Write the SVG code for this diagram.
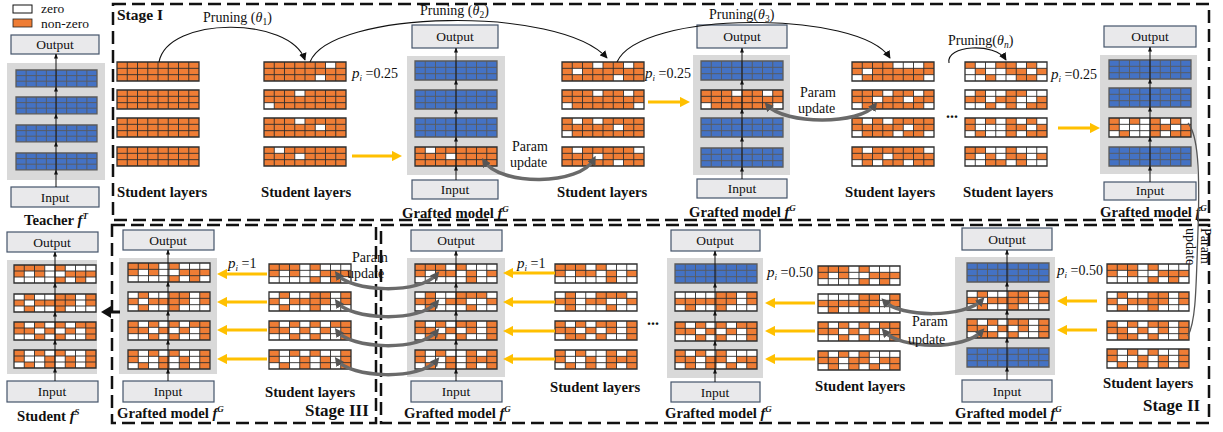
<svg xmlns="http://www.w3.org/2000/svg" xmlns:xlink="http://www.w3.org/1999/xlink" width="1223" height="432" viewBox="0 0 1223 432">
<defs>
<style>
.t{font-family:"Liberation Serif",serif;fill:#111}
.b{font-weight:bold;font-size:14.7px}
.s13{font-size:13.5px}
.s14{font-size:14px}
.io{fill:#e9e9eb;stroke:#44546a;stroke-width:1.2}
.pn{fill:#d9d9d9}
.o{fill:#ef7d35}
.bl{fill:#4472c4}
.w{fill:#fff}
.g{fill:none;stroke:#2e2e2e;stroke-width:0.9;vector-effect:non-scaling-stroke}
.gb{fill:none;stroke:#5a5a5a;stroke-width:0.9;vector-effect:non-scaling-stroke}
.ya{stroke:#ffc000;stroke-width:3.2;fill:none;marker-end:url(#ya)}
.pu{stroke:#6a6a6a;stroke-width:3.5;fill:none;marker-start:url(#gh);marker-end:url(#gh)}
.pr{stroke:#111;stroke-width:1.1;fill:none;marker-end:url(#ka)}
.va{stroke:#111;stroke-width:1;fill:none;marker-mid:url(#sa);marker-end:url(#sa)}
.dash{fill:none;stroke:#111;stroke-width:2.5;stroke-dasharray:13 6}
</style>
<marker id="ya" viewBox="0 0 10 10" refX="6" refY="5" markerWidth="3.3" markerHeight="3.3" orient="auto"><path d="M0 0L10 5L0 10z" fill="#ffc000"/></marker>
<marker id="gh" viewBox="0 0 10 10" refX="6" refY="5" markerWidth="2.6" markerHeight="2.6" orient="auto-start-reverse"><path d="M0 0L10 5L0 10z" fill="#555"/></marker>
<marker id="ka" viewBox="0 0 10 10" refX="9" refY="5" markerWidth="7" markerHeight="7" orient="auto"><path d="M0 0L10 5L0 10z" fill="#111"/></marker>
<marker id="sa" viewBox="0 0 10 10" refX="9" refY="5" markerWidth="5" markerHeight="5" orient="auto"><path d="M0 1L10 5L0 9z" fill="#111"/></marker>
<g id="gO"><path class="g" d="M1 0V3M2 0V3M3 0V3M4 0V3M5 0V3M6 0V3M7 0V3M0 1H8M0 2H8"/><rect class="g" width="8" height="3" style="stroke-width:1.3"/></g>
<g id="gB"><path class="gb" d="M1 0V3M2 0V3M3 0V3M4 0V3M5 0V3M6 0V3M7 0V3M0 1H8M0 2H8"/><rect class="gb" width="8" height="3" style="stroke-width:1.3"/></g>
<g id="LO"><rect class="o" width="8" height="3"/><use href="#gO"/></g>
<g id="LB"><rect class="bl" width="8" height="3"/><use href="#gB"/></g>
<g id="La1"><rect class="o" width="8" height="3"/><path class="w" d="M6 0h1v1h-1zM5 2h1v1h-1z"/><use href="#gO"/></g>
<g id="La2"><rect class="o" width="8" height="3"/><path class="w" d="M3 0h1v1h-1zM0 2h1v1h-1z"/><use href="#gO"/></g>
<g id="La3"><rect class="o" width="8" height="3"/><path class="w" d="M3 0h1v1h-1zM5 1h1v1h-1z"/><use href="#gO"/></g>
<g id="La4"><rect class="o" width="8" height="3"/><path class="w" d="M1 0h1v1h-1zM3 1h1v1h-1z"/><use href="#gO"/></g>
<g id="Lb1"><rect class="o" width="8" height="3"/><path class="w" d="M3 0h1v1h-1zM6 0h1v1h-1zM1 1h1v1h-1zM5 2h1v1h-1z"/><use href="#gO"/></g>
<g id="Lb2"><rect class="o" width="8" height="3"/><path class="w" d="M3 0h1v1h-1zM6 0h1v1h-1zM0 2h1v1h-1zM7 2h1v1h-1z"/><use href="#gO"/></g>
<g id="Lb3"><rect class="o" width="8" height="3"/><path class="w" d="M1 0h1v1h-1zM3 0h1v1h-1zM5 1h1v1h-1zM0 2h1v1h-1z"/><use href="#gO"/></g>
<g id="Lb4"><rect class="o" width="8" height="3"/><path class="w" d="M1 0h1v1h-1zM7 0h1v1h-1zM3 1h1v1h-1zM5 2h1v1h-1z"/><use href="#gO"/></g>
<g id="Lc1"><rect class="o" width="8" height="3"/><path class="w" d="M4 0h3v1h-3zM1 1h1v1h-1zM0 2h1v1h-1zM7 2h1v1h-1z"/><use href="#gO"/></g>
<g id="Lc2"><rect class="o" width="8" height="3"/><path class="w" d="M3 0h1v1h-1zM6 0h1v1h-1zM2 1h1v1h-1zM5 1h1v1h-1zM0 2h1v1h-1zM7 2h1v1h-1z"/><use href="#gO"/></g>
<g id="Lc3"><rect class="o" width="8" height="3"/><path class="w" d="M1 0h1v1h-1zM3 0h1v1h-1zM5 1h1v1h-1zM0 2h1v1h-1zM4 2h1v1h-1zM7 2h1v1h-1z"/><use href="#gO"/></g>
<g id="Lc4"><rect class="o" width="8" height="3"/><path class="w" d="M1 0h1v1h-1zM7 0h1v1h-1zM3 1h1v1h-1zM0 2h1v1h-1zM2 2h1v1h-1zM5 2h1v1h-1z"/><use href="#gO"/></g>
<g id="Ld1"><rect class="o" width="8" height="3"/><path class="w" d="M1 0h2v1h-2zM5 0h1v1h-1zM7 0h1v1h-1zM0 1h1v1h-1zM2 1h2v1h-2zM6 1h1v1h-1zM0 2h2v1h-2zM3 2h2v1h-2zM7 2h1v1h-1z"/><use href="#gO"/></g>
<g id="Ld2"><rect class="o" width="8" height="3"/><path class="w" d="M0 0h1v1h-1zM2 0h2v1h-2zM6 0h2v1h-2zM2 1h1v1h-1zM5 1h2v1h-2zM0 2h2v1h-2zM3 2h1v1h-1zM5 2h1v1h-1z"/><use href="#gO"/></g>
<g id="Ld3"><rect class="o" width="8" height="3"/><path class="w" d="M1 0h1v1h-1zM3 0h1v1h-1zM5 0h1v1h-1zM7 0h1v1h-1zM1 1h3v1h-3zM6 1h1v1h-1zM0 2h1v1h-1zM2 2h2v1h-2zM5 2h1v1h-1z"/><use href="#gO"/></g>
<g id="Ld4"><rect class="o" width="8" height="3"/><path class="w" d="M2 0h2v1h-2zM5 0h3v1h-3zM1 1h1v1h-1zM3 1h1v1h-1zM6 1h1v1h-1zM0 2h2v1h-2zM4 2h1v1h-1zM6 2h2v1h-2z"/><use href="#gO"/></g>
<g id="Le1"><rect class="o" width="8" height="3"/><path class="w" d="M3 0h1v1h-1zM5 0h3v1h-3zM1 1h1v1h-1zM3 1h2v1h-2zM0 2h4v1h-4zM5 2h1v1h-1zM7 2h1v1h-1z"/><use href="#gO"/></g>
<g id="Le2"><rect class="o" width="8" height="3"/><path class="w" d="M0 0h1v1h-1zM2 0h2v1h-2zM6 0h1v1h-1zM1 1h1v1h-1zM6 1h1v1h-1zM0 2h1v1h-1zM2 2h2v1h-2zM5 2h3v1h-3z"/><use href="#gO"/></g>
<g id="Le3"><rect class="o" width="8" height="3"/><path class="w" d="M1 0h1v1h-1zM3 0h1v1h-1zM5 0h1v1h-1zM2 1h1v1h-1zM4 1h1v1h-1zM6 1h1v1h-1zM0 2h2v1h-2zM3 2h1v1h-1zM5 2h2v1h-2z"/><use href="#gO"/></g>
<g id="Le4"><rect class="o" width="8" height="3"/><path class="w" d="M1 0h1v1h-1zM3 0h1v1h-1zM5 0h2v1h-2zM1 1h2v1h-2zM4 1h1v1h-1zM6 1h1v1h-1zM0 2h1v1h-1zM2 2h1v1h-1zM4 2h1v1h-1zM6 2h1v1h-1z"/><use href="#gO"/></g>
<g id="Lf1"><rect class="o" width="8" height="3"/><path class="w" d="M3 0h1v1h-1zM5 0h3v1h-3zM1 1h1v1h-1zM4 1h1v1h-1zM6 1h1v1h-1zM0 2h5v1h-5zM6 2h2v1h-2z"/><use href="#gO"/></g>
<g id="Lf2"><rect class="o" width="8" height="3"/><path class="w" d="M0 0h1v1h-1zM2 0h2v1h-2zM7 0h1v1h-1zM2 1h1v1h-1zM5 1h2v1h-2zM0 2h1v1h-1zM2 2h3v1h-3zM6 2h2v1h-2z"/><use href="#gO"/></g>
<g id="Lf3"><rect class="o" width="8" height="3"/><path class="w" d="M1 0h1v1h-1zM3 0h1v1h-1zM6 0h1v1h-1zM2 1h1v1h-1zM4 1h1v1h-1zM6 1h1v1h-1zM0 2h1v1h-1zM3 2h1v1h-1zM5 2h2v1h-2z"/><use href="#gO"/></g>
<g id="Lf4"><rect class="o" width="8" height="3"/><path class="w" d="M1 0h1v1h-1zM3 0h2v1h-2zM6 0h1v1h-1zM1 1h2v1h-2zM4 1h1v1h-1zM0 2h1v1h-1zM2 2h1v1h-1zM4 2h1v1h-1zM6 2h1v1h-1z"/><use href="#gO"/></g>
<g id="Lg2"><rect class="o" width="8" height="3"/><path class="w" d="M0 0h4v1h-4zM6 0h1v1h-1zM6 1h1v1h-1zM0 2h1v1h-1zM2 2h2v1h-2zM5 2h3v1h-3z"/><use href="#gO"/></g>
<g id="Lg4"><rect class="o" width="8" height="3"/><path class="w" d="M1 0h1v1h-1zM3 0h1v1h-1zM5 0h3v1h-3zM2 1h1v1h-1zM5 1h1v1h-1zM0 2h1v1h-1zM2 2h1v1h-1zM4 2h1v1h-1zM6 2h1v1h-1z"/><use href="#gO"/></g>
</defs>

<rect width="1223" height="432" fill="#fff"/>

<!-- legend -->
<g id="legend" class="t">
<rect x="13" y="5" width="19" height="8" fill="#fff" stroke="#111" stroke-width="1"/>
<text x="41" y="13" style="font-size:13.5px">zero</text>
<rect x="13" y="19" width="19" height="8" class="o" stroke="#222" stroke-width="0.8"/>
<text x="41" y="28" style="font-size:13.5px">non-zero</text>
</g>

<!-- stage frames -->
<g id="frames">
<rect class="dash" x="113" y="4" width="1096" height="216"/>
<rect class="dash" x="112" y="225" width="264" height="198"/>
<rect class="dash" x="381" y="225" width="828" height="198"/>
<text class="t" x="117" y="20" style="font-weight:bold;font-size:15.5px">Stage I</text>
<text class="t" x="305" y="416" style="font-weight:bold;font-size:17px">Stage III</text>
<text class="t" x="1143" y="411" style="font-weight:bold;font-size:17px">Stage II</text>
</g>

<!-- Teacher -->
<g id="teacher">
<rect class="io" x="11" y="35" width="88" height="19"/>
<text class="t s13" x="55" y="49" text-anchor="middle">Output</text>
<rect class="pn" x="7" y="63" width="98" height="117"/>
<use href="#LB" transform="translate(16,70) scale(10.125,5.6)"/>
<use href="#LB" transform="translate(16,97) scale(10.125,5.6)"/>
<use href="#LB" transform="translate(16,125) scale(10.125,5.6)"/>
<use href="#LB" transform="translate(16,153) scale(10.125,5.6)"/>
<rect class="io" x="11" y="187" width="88" height="20"/>
<text class="t s13" x="55" y="202" text-anchor="middle">Input</text>
<path class="va" d="M56 187L56 170L56 142L56 114L56 87L56 54"/>
<text class="t b" x="56" y="225" text-anchor="middle">Teacher <tspan font-style="italic">f</tspan><tspan font-size="9" dy="-6" font-style="italic">T</tspan></text>
</g>

<!-- Stage I student columns -->
<g id="s1-student1">
<use href="#LO" transform="translate(117,62) scale(10.25,6.33)"/>
<use href="#LO" transform="translate(117,90) scale(10.25,6.33)"/>
<use href="#LO" transform="translate(117,118) scale(10.25,6.33)"/>
<use href="#LO" transform="translate(117,147) scale(10.25,6.33)"/>
<text class="t b" x="117" y="197">Student layers</text>
</g>
<g id="s1-student2">
<use href="#La1" transform="translate(264,62) scale(10.25,6.33)"/>
<use href="#La2" transform="translate(264,90) scale(10.25,6.33)"/>
<use href="#La3" transform="translate(264,118) scale(10.25,6.33)"/>
<use href="#La4" transform="translate(264,147) scale(10.25,6.33)"/>
<text class="t" x="352" y="78" style="font-size:14px"><tspan font-style="italic" font-size="15">p</tspan><tspan font-size="9" dy="3" font-style="italic">i</tspan><tspan dy="-3"> =0.25</tspan></text>
<text class="t b" x="261" y="197">Student layers</text>
</g>
<g id="s1-grafted1">
<rect class="io" x="412" y="25" width="86" height="23"/>
<text class="t s13" x="455" y="41" text-anchor="middle">Output</text>
<rect class="pn" x="407" y="56" width="98" height="119"/>
<use href="#LB" transform="translate(415,61) scale(10.25,6.33)"/>
<use href="#LB" transform="translate(415,90) scale(10.25,6.33)"/>
<use href="#LB" transform="translate(415,118) scale(10.25,6.33)"/>
<use href="#La4" transform="translate(415,147) scale(10.25,6.33)"/>
<rect class="io" x="412" y="180" width="86" height="19"/>
<text class="t s13" x="455" y="194" text-anchor="middle">Input</text>
<path class="va" d="M456 180L456 166L456 137L456 109L456 80L456 48"/>
<text class="t b" x="402" y="218">Grafted model <tspan font-style="italic">f</tspan><tspan font-size="9" dy="-6" font-style="italic">G</tspan></text>
</g>
<g id="s1-student3">
<use href="#Lb1" transform="translate(562,62) scale(10.25,6.33)"/>
<use href="#Lb2" transform="translate(562,90) scale(10.25,6.33)"/>
<use href="#Lb3" transform="translate(562,118) scale(10.25,6.33)"/>
<use href="#Lb4" transform="translate(562,147) scale(10.25,6.33)"/>
<text class="t" x="645" y="78" style="font-size:14px"><tspan font-style="italic" font-size="15">p</tspan><tspan font-size="9" dy="3" font-style="italic">i</tspan><tspan dy="-3"> =0.25</tspan></text>
<text class="t b" x="557" y="197">Student layers</text>
</g>
<g id="s1-grafted2">
<rect class="io" x="697" y="25" width="90" height="23"/>
<text class="t s13" x="742" y="41" text-anchor="middle">Output</text>
<rect class="pn" x="693" y="55" width="97" height="120"/>
<use href="#LB" transform="translate(701,61) scale(10.25,6.33)"/>
<use href="#Lb2" transform="translate(701,90) scale(10.25,6.33)"/>
<use href="#LB" transform="translate(701,118) scale(10.25,6.33)"/>
<use href="#LB" transform="translate(701,148) scale(10.25,6.33)"/>
<rect class="io" x="697" y="179" width="90" height="19"/>
<text class="t s13" x="742" y="193" text-anchor="middle">Input</text>
<path class="va" d="M742 179L742 167L742 137L742 109L742 80L742 48"/>
<text class="t b" x="689" y="217">Grafted model <tspan font-style="italic">f</tspan><tspan font-size="9" dy="-6" font-style="italic">G</tspan></text>
</g>
<g id="s1-student4">
<use href="#Lc1" transform="translate(852,62) scale(10.25,6.33)"/>
<use href="#Lc2" transform="translate(852,90) scale(10.25,6.33)"/>
<use href="#Lc3" transform="translate(852,118) scale(10.25,6.33)"/>
<use href="#Lc4" transform="translate(852,147) scale(10.25,6.33)"/>
<text class="t b" x="845" y="197">Student layers</text>
<text class="t" x="946" y="118" style="font-size:16px;font-weight:bold">...</text>
</g>
<g id="s1-student5">
<use href="#Ld1" transform="translate(965,62) scale(10.25,6.33)"/>
<use href="#Ld2" transform="translate(965,90) scale(10.25,6.33)"/>
<use href="#Ld3" transform="translate(965,118) scale(10.25,6.33)"/>
<use href="#Ld4" transform="translate(965,147) scale(10.25,6.33)"/>
<text class="t" x="1051" y="79" style="font-size:14px"><tspan font-style="italic" font-size="15">p</tspan><tspan font-size="9" dy="3" font-style="italic">i</tspan><tspan dy="-3"> =0.25</tspan></text>
<text class="t b" x="963" y="197">Student layers</text>
</g>
<g id="s1-grafted3">
<rect class="io" x="1104" y="26" width="92" height="21"/>
<text class="t s13" x="1150" y="41" text-anchor="middle">Output</text>
<rect class="pn" x="1100" y="55" width="97" height="119"/>
<use href="#LB" transform="translate(1109,60) scale(10.25,6.33)"/>
<use href="#LB" transform="translate(1109,88) scale(10.25,6.33)"/>
<use href="#Ld3" transform="translate(1109,118) scale(10.25,6.33)"/>
<use href="#LB" transform="translate(1109,147) scale(10.25,6.33)"/>
<rect class="io" x="1104" y="182" width="92" height="18"/>
<text class="t s13" x="1150" y="195" text-anchor="middle">Input</text>
<path class="va" d="M1150 182L1150 166L1150 137L1150 107L1150 79L1150 47"/>
<text class="t b" x="1100" y="217">Grafted model <tspan font-style="italic">f</tspan><tspan font-size="9" dy="-6" font-style="italic">G</tspan></text>
</g>

<!-- Student f^S -->
<g id="student-final">
<rect class="io" x="7" y="232" width="91" height="20"/>
<text class="t s13" x="52" y="247" text-anchor="middle">Output</text>
<rect class="pn" x="7" y="260" width="90" height="114"/>
<use href="#Le1" transform="translate(14,265) scale(10.25,6)"/>
<use href="#Le2" transform="translate(14,294) scale(10.25,6)"/>
<use href="#Le3" transform="translate(14,322) scale(10.25,6)"/>
<use href="#Le4" transform="translate(14,350) scale(10.25,6)"/>
<rect class="io" x="7" y="381" width="91" height="21"/>
<text class="t s13" x="52" y="396" text-anchor="middle">Input</text>
<path class="va" d="M55 381L55 368L55 340L55 312L55 283L55 252"/>
<text class="t b" x="17" y="421">Student <tspan font-style="italic">f</tspan><tspan font-size="9" dy="-6" font-style="italic">S</tspan></text>
</g>

<!-- Stage III -->
<g id="s3-grafted">
<rect class="io" x="123" y="230" width="91" height="20"/>
<text class="t s13" x="168" y="245" text-anchor="middle">Output</text>
<rect class="pn" x="119" y="258" width="98" height="116"/>
<use href="#Le1" transform="translate(128,263) scale(10.25,6.33)"/>
<use href="#Le2" transform="translate(128,292) scale(10.25,6.33)"/>
<use href="#Le3" transform="translate(128,321) scale(10.25,6.33)"/>
<use href="#Le4" transform="translate(128,350) scale(10.25,6.33)"/>
<rect class="io" x="123" y="381" width="91" height="21"/>
<text class="t s13" x="168" y="396" text-anchor="middle">Input</text>
<path class="va" d="M168 381L168 369L168 340L168 311L168 282L168 250"/>
<text class="t b" x="117" y="418">Grafted model <tspan font-style="italic">f</tspan><tspan font-size="9" dy="-6" font-style="italic">G</tspan></text>
</g>
<g id="s3-student">
<use href="#Le1" transform="translate(269,264) scale(10.25,6.33)"/>
<use href="#Le2" transform="translate(269,292) scale(10.25,6.33)"/>
<use href="#Le3" transform="translate(269,321) scale(10.25,6.33)"/>
<use href="#Le4" transform="translate(269,350) scale(10.25,6.33)"/>
<text class="t" x="228" y="268" style="font-size:14px"><tspan font-style="italic" font-size="15">p</tspan><tspan font-size="9" dy="3" font-style="italic">i</tspan><tspan dy="-3"> =1</tspan></text>
<text class="t b" x="265" y="397">Student layers</text>
</g>

<!-- Stage II -->
<g id="s2-grafted1">
<rect class="io" x="411" y="230" width="91" height="21"/>
<text class="t s13" x="456" y="245" text-anchor="middle">Output</text>
<rect class="pn" x="407" y="258" width="98" height="119"/>
<use href="#Lf1" transform="translate(415,264) scale(10.25,6.33)"/>
<use href="#Lf2" transform="translate(415,292) scale(10.25,6.33)"/>
<use href="#Lf3" transform="translate(415,321) scale(10.25,6.33)"/>
<use href="#Lf4" transform="translate(415,350) scale(10.25,6.33)"/>
<rect class="io" x="411" y="381" width="91" height="21"/>
<text class="t s13" x="456" y="396" text-anchor="middle">Input</text>
<path class="va" d="M456 381L456 369L456 340L456 311L456 283L456 251"/>
<text class="t b" x="404" y="418">Grafted model <tspan font-style="italic">f</tspan><tspan font-size="9" dy="-6" font-style="italic">G</tspan></text>
</g>
<g id="s2-student1">
<use href="#Lf1" transform="translate(555,264) scale(10.25,6.33)"/>
<use href="#Lf2" transform="translate(555,292) scale(10.25,6.33)"/>
<use href="#Lf3" transform="translate(555,321) scale(10.25,6.33)"/>
<use href="#Lf4" transform="translate(555,350) scale(10.25,6.33)"/>
<text class="t" x="517" y="268" style="font-size:14px"><tspan font-style="italic" font-size="15">p</tspan><tspan font-size="9" dy="3" font-style="italic">i</tspan><tspan dy="-3"> =1</tspan></text>
<text class="t b" x="550" y="392">Student layers</text>
<text class="t" x="647" y="325" style="font-size:16px;font-weight:bold">...</text>
</g>
<g id="s2-grafted2">
<rect class="io" x="671" y="230" width="89" height="21"/>
<text class="t s13" x="715" y="245" text-anchor="middle">Output</text>
<rect class="pn" x="667" y="258" width="96" height="120"/>
<use href="#LB" transform="translate(675,264) scale(10.25,6.33)"/>
<use href="#Lg2" transform="translate(675,292) scale(10.25,6.33)"/>
<use href="#Le3" transform="translate(675,322) scale(10.25,6.33)"/>
<use href="#Lg4" transform="translate(675,350) scale(10.25,6.33)"/>
<rect class="io" x="671" y="382" width="89" height="20"/>
<text class="t s13" x="715" y="397" text-anchor="middle">Input</text>
<path class="va" d="M715 382L715 369L715 341L715 311L715 283L715 251"/>
<text class="t b" x="665" y="418">Grafted model <tspan font-style="italic">f</tspan><tspan font-size="9" dy="-6" font-style="italic">G</tspan></text>
</g>
<g id="s2-student2">
<use href="#Le1" transform="translate(818,266) scale(10.25,6.33)"/>
<use href="#Lg2" transform="translate(818,294) scale(10.25,6.33)"/>
<use href="#Le3" transform="translate(818,322) scale(10.25,6.33)"/>
<use href="#Lg4" transform="translate(818,351) scale(10.25,6.33)"/>
<text class="t" x="767" y="277" style="font-size:14px"><tspan font-style="italic" font-size="15">p</tspan><tspan font-size="9" dy="3" font-style="italic">i</tspan><tspan dy="-3"> =0.50</tspan></text>
<text class="t b" x="815" y="391">Student layers</text>
</g>
<g id="s2-grafted3">
<rect class="io" x="962" y="228" width="90" height="22"/>
<text class="t s13" x="1007" y="244" text-anchor="middle">Output</text>
<rect class="pn" x="955" y="257" width="100" height="118"/>
<use href="#LB" transform="translate(967,263) scale(10.25,6.33)"/>
<use href="#Le2" transform="translate(967,291) scale(10.25,6.33)"/>
<use href="#Lf3" transform="translate(967,319) scale(10.25,6.33)"/>
<use href="#LB" transform="translate(967,348) scale(10.25,6.33)"/>
<rect class="io" x="962" y="380" width="90" height="22"/>
<text class="t s13" x="1007" y="396" text-anchor="middle">Input</text>
<path class="va" d="M1007 380L1007 367L1007 338L1007 310L1007 282L1007 250"/>
<text class="t b" x="955" y="418">Grafted model <tspan font-style="italic">f</tspan><tspan font-size="9" dy="-6" font-style="italic">G</tspan></text>
</g>
<g id="s2-student3">
<use href="#Le1" transform="translate(1107,264) scale(10.25,6.33)"/>
<use href="#Le2" transform="translate(1107,292) scale(10.25,6.33)"/>
<use href="#Lf3" transform="translate(1107,321) scale(10.25,6.33)"/>
<use href="#Le4" transform="translate(1107,349) scale(10.25,6.33)"/>
<text class="t" x="1057" y="275" style="font-size:14px"><tspan font-style="italic" font-size="15">p</tspan><tspan font-size="9" dy="3" font-style="italic">i</tspan><tspan dy="-3"> =0.50</tspan></text>
<text class="t b" x="1103" y="388">Student layers</text>
</g>

<!-- connectors -->
<g id="connectors">
<path class="pr" d="M159 62C168 16 290 16 305 60"/>
<path class="pr" d="M310 62C330 10 560 5 607 58"/>
<path class="pr" d="M617 62C640 10 860 10 890 58"/>
<path class="pr" d="M949 63C945 45 995 42 1006 60"/>
<g class="t s14">
<text x="203" y="22">Pruning (<tspan font-style="italic">θ</tspan><tspan font-size="9.5" dy="3">1</tspan><tspan dy="-3">)</tspan></text>
<text x="420" y="15">Pruning (<tspan font-style="italic">θ</tspan><tspan font-size="9.5" dy="3">2</tspan><tspan dy="-3">)</tspan></text>
<text x="709" y="19">Pruning(<tspan font-style="italic">θ</tspan><tspan font-size="9.5" dy="3">3</tspan><tspan dy="-3">)</tspan></text>
<text x="948" y="45">Pruning(<tspan font-style="italic">θ</tspan><tspan font-size="9.5" dy="3" font-style="italic">n</tspan><tspan dy="-3">)</tspan></text>
</g>
<path class="ya" d="M352 156H398"/>
<path class="ya" d="M648 102H686"/>
<path class="ya" d="M1058 128H1096"/>
<path class="ya" d="M267 274H221"/>
<path class="ya" d="M267 302H221"/>
<path class="ya" d="M267 330H221"/>
<path class="ya" d="M267 359H221"/>
<path class="ya" d="M555 273H507"/>
<path class="ya" d="M555 302H507"/>
<path class="ya" d="M555 331H507"/>
<path class="ya" d="M555 359H507"/>
<path class="ya" d="M815 303H769"/>
<path class="ya" d="M815 331H769"/>
<path class="ya" d="M815 359H769"/>
<path class="ya" d="M1097 301H1061"/>
<path class="ya" d="M1097 330H1061"/>
<path class="pu" d="M484 161C500 186 580 186 594 159"/>
<path class="pu" d="M767 105C785 125 860 125 875 105"/>
<path class="pu" d="M337 274C350 292 420 295 437 274"/>
<path class="pu" d="M337 302C350 320 420 323 437 302"/>
<path class="pu" d="M337 331C350 349 420 352 437 331"/>
<path class="pu" d="M337 360C350 378 420 381 437 360"/>
<path class="pu" d="M884 301C900 318 965 318 982 300"/>
<path class="pu" d="M884 331C900 350 965 350 982 331"/>
<path d="M1188 123C1198 135 1200 170 1198 230C1196 290 1196 320 1188 336" fill="none" stroke="#555" stroke-width="1.3"/>
<g class="t s14">
<text x="512" y="151">Param</text>
<text x="510" y="167">update</text>
<text x="800" y="97">Param</text>
<text x="798" y="113">update</text>
<text x="352" y="262">Param</text>
<text x="347" y="278">update</text>
<text x="912" y="326">Param</text>
<text x="908" y="344">update</text>
<text transform="translate(1201,228) rotate(90)">Param</text>
<text transform="translate(1186,228) rotate(90)">update</text>
</g>
<path d="M120 312H109" stroke="#111" stroke-width="3" fill="none"/>
<path d="M101 312L111 306L111 318z" fill="#111"/>
</g>
</svg>
